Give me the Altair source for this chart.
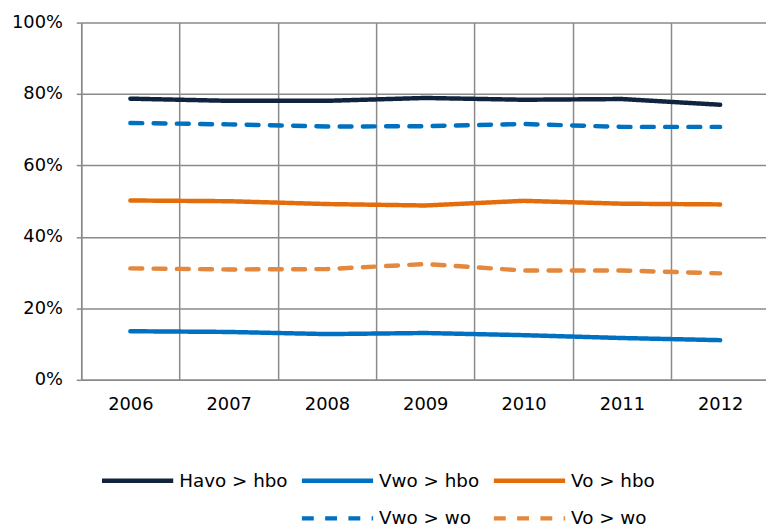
import altair as alt
import pandas as pd

years = [2006, 2007, 2008, 2009, 2010, 2011, 2012]
havo_hbo = [78.7, 78.1, 78.1, 78.9, 78.4, 78.6, 77.0]
vwo_hbo = [13.6, 13.4, 12.8, 13.1, 12.5, 11.7, 11.1]
vo_hbo = [50.2, 50.0, 49.2, 48.8, 50.1, 49.3, 49.1]
vwo_wo = [71.9, 71.5, 70.9, 71.0, 71.6, 70.8, 70.8]
vo_wo = [31.2, 30.9, 31.0, 32.4, 30.6, 30.6, 29.8]

series_names = ["Havo > hbo", "Vwo > hbo", "Vo > hbo", " ", "Vwo > wo", "Vo > wo"]
series_values = {
    "Havo > hbo": havo_hbo,
    "Vwo > hbo": vwo_hbo,
    "Vo > hbo": vo_hbo,
    "Vwo > wo": vwo_wo,
    "Vo > wo": vo_wo,
}
y_ticks = [0, 20, 40, 60, 80, 100]

colors = ["#10243e", "#0070c0", "#e46c0a", "#ffffff", "#0070c0", "#e3883c"]
dashes = [[1, 0], [1, 0], [1, 0], [1, 0], [12, 11.5], [12, 11.5]]

rows = []
for name, vals in series_values.items():
    for yr, v in zip(years, vals):
        rows.append({"year": yr, "value": v, "series": name})
df = pd.DataFrame(rows)

W, H = 692, 361
band_px = 99.33
x_domain = [years[0] - 0.5, years[0] - 0.5 + W / band_px]

grid_color = "#8a8a8a"
font = "DejaVu Sans"

legend = alt.Legend(
    orient="none",
    direction="horizontal",
    legendX=18.75,
    legendY=444.5,
    columns=3,
    title=None,
    symbolType="M-1,0H3.43",
    symbolSize=1056,
    symbolStrokeWidth=4.5,
    labelFontSize=18.5,
    labelFont=font,
    labelColor="#000000",
    labelOffset=43.25,
    columnPadding=5,
    rowPadding=10,
    padding=0,
)

chart = (
    alt.Chart(df)
    .mark_line(strokeWidth=4.5, strokeCap="round", strokeJoin="round")
    .encode(
        x=alt.X(
            "year:Q",
            scale=alt.Scale(domain=x_domain, nice=False, zero=False),
            axis=alt.Axis(
                values=[y - 0.5 for y in years],
                labelExpr="format(datum.value + 0.5, 'd')",
                labelOffset=band_px / 2,
                grid=True,
                gridColor=grid_color,
                gridWidth=1.5,
                ticks=False,
                tickSize=0,
                labelPadding=16,
                labelFlush=False,
                labelOverlap=False,
                labelBound=False,
                domainColor=grid_color,
                domainWidth=1.5,
                labelFontSize=18,
                labelFont=font,
                labelColor="#000000",
                title=None,
            ),
        ),
        y=alt.Y(
            "value:Q",
            scale=alt.Scale(domain=[0, 100], nice=False),
            axis=alt.Axis(
                values=y_ticks,
                labelExpr="datum.value + '%'",
                grid=True,
                gridColor=grid_color,
                gridWidth=1.5,
                tickSize=5,
                tickColor=grid_color,
                tickWidth=1.5,
                labelPadding=14,
                domainColor=grid_color,
                domainWidth=1.5,
                labelFontSize=18,
                labelFont=font,
                labelColor="#000000",
                title=None,
            ),
        ),
        color=alt.Color(
            "series:N",
            scale=alt.Scale(domain=series_names, range=colors),
            legend=legend,
        ),
        strokeDash=alt.StrokeDash(
            "series:N",
            scale=alt.Scale(domain=series_names, range=dashes),
            legend=legend,
        ),
    )
    .properties(
        width=W,
        height=H,
        autosize=alt.AutoSizeParams(type="none"),
        padding={"left": 74, "top": 12, "right": 0, "bottom": 146},
    )
    .configure_view(strokeWidth=0)
)

chart.save("out.html", embed_options={"renderer": "svg", "actions": False})
